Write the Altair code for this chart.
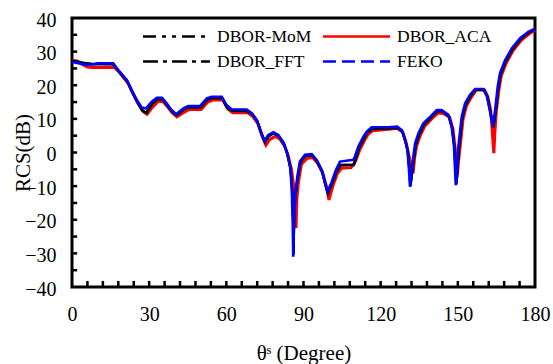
import altair as alt
import pandas as pd

SERIES = ["DBOR-MoM", "DBOR_ACA", "DBOR_FFT", "FEKO"]
COLORS = ["#000000", "#FF0000", "#000000", "#0000FF"]
DASHES = [[13, 6, 4, 6, 4, 6], [1, 0], [15, 5, 4, 5], [13, 6]]

X_LABELS = [0, 30, 60, 90, 120, 150, 180]
Y_LABELS = [-40, -30, -20, -10, 0, 10, 20, 30, 40]
X_MINOR = list(range(6, 180, 6))
Y_MINOR = list(range(-35, 40, 5))

# (theta in degrees, RCS in dB)
FEKO = [(0, 26.9), (3, 26.5), (5, 26.1), (8, 26.2), (10, 26.5), (16, 26.5), (18, 24.5),
        (21.3, 21.6), (23.2, 18.6), (25.2, 15.6), (27.1, 13.4), (28.8, 13.1), (31.0, 15.1),
        (33, 16.3), (35, 16.3), (36.8, 14.6), (38.5, 12.8), (40.5, 11.4), (43.3, 13.1),
        (45.2, 13.8), (49.8, 13.8), (52.4, 16.1), (54.3, 16.6), (58.2, 16.6), (60.1, 14.1),
        (62.1, 12.8), (67.9, 12.8), (69.9, 11.7), (71.8, 9.7), (73.5, 6.0), (74.8, 3.5),
        (76.3, 5.2), (78.3, 6.0), (80.2, 5.2), (82.2, 3.0), (83.5, 0.2), (84.8, -4.2),
        (85.4, -10.2), (85.8, -20), (86.0, -31.0), (86.3, -20), (86.7, -13.1), (87.6, -7.2),
        (88.6, -2.7), (90.6, -0.7), (93.2, -0.5), (95.1, -2.2), (97.1, -5.2), (98.4, -9.2),
        (99.3, -11.6), (101.0, -8.7), (102.6, -5.2), (104.2, -2.7), (109.4, -2.2), (110.0, -1.2),
        (111.3, 1.7), (113.3, 4.7), (114.6, 6.2), (116.5, 7.5), (123.0, 7.5), (126.4, 7.7),
        (128.2, 6.7), (129.5, 3.7), (130.4, 0.7), (131.0, -5.0), (131.4, -10.2), (132.5, -2.2),
        (133.4, 2.7), (134.7, 5.7), (136.6, 8.7), (139.2, 10.6), (141.8, 12.6), (143.7, 12.6),
        (146.3, 11.2), (147.6, 7.7), (148.5, 2.0), (149.2, -9.7), (150.2, 1.7), (151.5, 10.6),
        (152.8, 14.6), (154.7, 17.1), (156.7, 18.9), (159.9, 18.9), (161.2, 17.1), (162.3, 13.1),
        (163.6, 7.7), (164.5, 12.6), (165.5, 19.6), (166.4, 23.6), (168.4, 27.5), (171.0, 31.0),
        (174.2, 34.0), (177.4, 35.9), (180, 36.8)]

DBOR_MOM = [(0, 27.3), (3, 26.9), (5, 26.6), (8, 26.3), (16, 26.3), (18.2, 24.2), (21.5, 21.2),
            (23.4, 18.1), (25.4, 15.1), (27.3, 12.6), (28.9, 11.7), (31.2, 14.5), (33.2, 15.8),
            (35.2, 15.8), (37, 14.1), (38.7, 12.4), (40.6, 11.0), (43.5, 12.8), (45.4, 13.5),
            (50, 13.5), (52.6, 15.7), (54.5, 16.2), (58.4, 16.2), (60.3, 13.4), (62.3, 12.4),
            (68.1, 12.4), (70.1, 11.4), (72.0, 9.4), (73.7, 5.6), (75.0, 3.1), (76.5, 4.8),
            (78.5, 5.8), (80.4, 4.9), (82.4, 2.6), (83.7, -0.3), (85.0, -4.8), (85.6, -11),
            (86.0, -20), (86.1, -30.5), (86.4, -18), (86.9, -12.5), (87.8, -7.3), (88.8, -2.9),
            (90.8, -0.9), (93.4, -0.8), (95.3, -2.6), (97.3, -5.7), (98.6, -9.8), (99.5, -12.2),
            (101.2, -9.0), (102.8, -5.7), (104.4, -3.7), (109.6, -3.7), (110.3, -1.8), (111.5, 1.2),
            (113.5, 4.3), (114.8, 5.9), (116.7, 7.1), (123.2, 7.2), (126.6, 7.4), (128.4, 6.3),
            (129.7, 3.2), (130.6, 0.2), (131.2, -5.0), (131.6, -10.0), (132.7, -2.8), (133.6, 2.2),
            (134.9, 5.3), (136.8, 8.3), (139.4, 10.3), (142.0, 12.3), (143.9, 12.3), (146.5, 10.9),
            (147.8, 7.3), (148.7, 1.5), (149.4, -9.5), (150.4, 1.2), (151.7, 10.2), (153.0, 14.2),
            (154.9, 16.8), (156.9, 18.7), (160.1, 18.7), (161.4, 16.8), (162.5, 12.7), (163.8, 7.5),
            (164.7, 12.2), (165.7, 19.2), (166.6, 23.2), (168.6, 27.2), (171.2, 30.7), (174.4, 33.8),
            (177.6, 35.7), (180, 36.7)]

DBOR_FFT = [(0, 27.2), (3, 26.8), (5, 26.5), (8, 26.3), (16, 26.2), (18.2, 24.1), (21.5, 21.1),
            (23.4, 18.0), (25.4, 15.0), (27.3, 12.5), (28.9, 11.8), (31.2, 14.6), (33.2, 15.9),
            (35.2, 15.8), (37, 14.0), (38.7, 12.3), (40.6, 11.1), (43.5, 12.9), (45.4, 13.5),
            (50, 13.4), (52.6, 15.7), (54.5, 16.3), (58.4, 16.2), (60.3, 13.3), (62.3, 12.4),
            (68.1, 12.3), (70.1, 11.3), (72.0, 9.3), (73.7, 5.5), (75.0, 3.2), (76.5, 4.9),
            (78.5, 5.8), (80.4, 4.8), (82.4, 2.5), (83.7, -0.4), (85.0, -5.0), (85.6, -11.5),
            (86.0, -21), (86.1, -30.0), (86.4, -18), (86.9, -12.3), (87.8, -7.2), (88.8, -2.8),
            (90.8, -0.9), (93.4, -0.8), (95.3, -2.7), (97.3, -5.8), (98.6, -9.9), (99.5, -12.0),
            (101.2, -9.1), (102.8, -5.8), (104.4, -3.8), (109.6, -3.6), (110.3, -1.8), (111.5, 1.1),
            (113.5, 4.2), (114.8, 5.9), (116.7, 7.0), (123.2, 7.2), (126.6, 7.3), (128.4, 6.2),
            (129.7, 3.1), (130.6, 0.1), (131.2, -5.2), (131.6, -9.8), (132.7, -2.9), (133.6, 2.1),
            (134.9, 5.2), (136.8, 8.2), (139.4, 10.3), (142.0, 12.2), (143.9, 12.3), (146.5, 10.8),
            (147.8, 7.2), (148.7, 1.3), (149.4, -9.3), (150.4, 1.1), (151.7, 10.1), (153.0, 14.1),
            (154.9, 16.7), (156.9, 18.7), (160.1, 18.6), (161.4, 16.7), (162.5, 12.6), (163.8, 7.6),
            (164.7, 12.1), (165.7, 19.1), (166.6, 23.1), (168.6, 27.1), (171.2, 30.6), (174.4, 33.7),
            (177.6, 35.7), (180, 36.7)]

DBOR_ACA = [(0, 27.4), (2, 27.2), (4, 26.2), (6, 25.4), (8, 25.3), (16.5, 25.3), (18.5, 23.8),
            (21.8, 20.6), (23.7, 17.5), (25.7, 14.6), (27.6, 12.2), (29.2, 11.4), (31.3, 13.5),
            (33.5, 15.2), (35.3, 15.2), (37.2, 13.6), (38.9, 11.8), (40.8, 10.6), (43.6, 12.0),
            (45.6, 12.8), (50.2, 12.8), (52.8, 15.0), (54.7, 15.6), (58.6, 15.6), (60.5, 13.0),
            (62.5, 11.8), (68.3, 11.8), (70.3, 10.7), (72.2, 8.7), (74.0, 4.7), (75.4, 2.2),
            (76.8, 3.8), (79.0, 4.8), (80.8, 4.0), (82.6, 2.0), (84.0, -0.8), (85.3, -5.0),
            (86.2, -10.0), (86.8, -18.0), (87.1, -22.5), (87.4, -14.0), (88.0, -9.0), (89.2, -3.5),
            (91.5, -1.7), (93.5, -1.5), (95.5, -3.2), (97.5, -6.2), (98.9, -10.0), (99.9, -14.1),
            (101.5, -9.7), (103.2, -6.2), (104.8, -4.7), (108.5, -4.5), (110.3, -2.5), (111.8, 0.7),
            (113.8, 3.7), (115.2, 5.5), (117.0, 6.5), (123.0, 6.9), (126.5, 7.2), (128.7, 5.9),
            (130.0, 2.7), (131.0, -1.0), (132.6, -6.2), (133.2, -1.5), (134.0, 2.0), (135.3, 4.9),
            (137.2, 7.9), (139.8, 10.0), (142.3, 11.7), (144.2, 11.7), (146.8, 10.5), (148.1, 7.0),
            (149.0, 1.0), (149.7, -7.5), (150.5, -1.0), (150.8, 1.0), (152.0, 9.8), (153.3, 13.8),
            (155.2, 16.4), (157.2, 18.6), (160.4, 18.6), (161.7, 16.5), (162.8, 12.5), (163.5, 5.0),
            (164.0, -0.2), (164.4, 6.0), (164.9, 11.8), (166.0, 18.8), (166.9, 22.8), (168.9, 26.8),
            (171.5, 30.3), (174.7, 33.4), (177.9, 35.4), (180, 36.3)]


def frame(pairs, name):
    return pd.DataFrame({"theta": [p[0] for p in pairs],
                         "rcs": [p[1] for p in pairs],
                         "series": name})


FONT = "Liberation Serif"
x_scale = alt.Scale(domain=[0, 180], nice=False, zero=False)
y_scale = alt.Scale(domain=[-40, 40], nice=False, zero=False)

x_axis = alt.Axis(values=X_LABELS, title="θˢ (Degree)", labelPadding=17, labelFlush=False,
                  domain=False, ticks=False, grid=False,
                  labelFont=FONT, labelFontSize=20, labelColor="black",
                  titleFont=FONT, titleFontSize=21, titleColor="black", titleFontWeight="normal",
                  titleX=231.5, titleY=66, titleBaseline="middle", titleAlign="center")
y_axis = alt.Axis(values=Y_LABELS, title="RCS(dB)", labelPadding=16, labelFlush=False,
                  labelOffset=2,
                  domain=False, ticks=False, grid=False,
                  labelFont=FONT, labelFontSize=20, labelColor="black",
                  titleFont=FONT, titleFontSize=21, titleColor="black", titleFontWeight="normal",
                  titleX=-48.5, titleY=134.5, titleBaseline="middle", titleAlign="center")

W, H = 463, 269


def line(df, color, width):
    return alt.Chart(df).mark_line(color=color, strokeWidth=width).encode(
        x=alt.X("theta:Q", scale=x_scale, axis=x_axis),
        y=alt.Y("rcs:Q", scale=y_scale, axis=y_axis),
    )


aca = line(frame(DBOR_ACA, "DBOR_ACA"), "#FF0000", 3.0)
mom = line(frame(DBOR_MOM, "DBOR-MoM"), "#000000", 2.4)
fft = line(frame(DBOR_FFT, "DBOR_FFT"), "#000000", 2.4)
feko = line(frame(FEKO, "FEKO"), "#0000FF", 2.6)

y_ticks = alt.Chart(pd.DataFrame({"v": Y_MINOR})).mark_rule(
    color="black", strokeWidth=2.5
).encode(
    y=alt.Y("v:Q", scale=y_scale, axis=y_axis),
    x=alt.XDatum(0, scale=x_scale, axis=x_axis),
    x2=alt.datum(2.0),
)

x_ticks = alt.Chart(pd.DataFrame({"v": X_MINOR})).mark_rule(
    color="black", strokeWidth=2.5
).encode(
    x=alt.X("v:Q", scale=x_scale, axis=x_axis),
    y=alt.YDatum(-40, scale=y_scale, axis=y_axis),
    y2=alt.datum(-38.2),
)

legend = alt.Legend(
    title=None, orient="none", legendX=92, legendY=6, columns=2, direction="horizontal",
    symbolType="M-3,0H3", symbolSize=500, symbolStrokeWidth=2.5,
    labelFont=FONT, labelFontSize=17.5, labelColor="black", labelOffset=28,
    columnPadding=5, rowPadding=4, padding=0, labelLimit=200,
)

legend_df = pd.DataFrame({"theta": [0, 0, 0, 0], "rcs": [0, 0, 0, 0], "series": SERIES})
legend_layer = alt.Chart(legend_df).mark_line(strokeWidth=2.5).encode(
    x=alt.X("theta:Q", scale=x_scale, axis=x_axis),
    y=alt.Y("rcs:Q", scale=y_scale, axis=y_axis),
    color=alt.Color("series:N", scale=alt.Scale(domain=SERIES, range=COLORS),
                    legend=legend, sort=SERIES),
    strokeDash=alt.StrokeDash("series:N", scale=alt.Scale(domain=SERIES, range=DASHES),
                              legend=legend, sort=SERIES),
)

chart = alt.layer(aca, mom, fft, feko, y_ticks, x_ticks, legend_layer).properties(
    width=W, height=H,
    background="white",
    autosize=alt.AutoSizeParams(type="none"),
    padding={"left": 72, "top": 18, "right": 18, "bottom": 77},
).configure(
    font=FONT
).configure_view(
    stroke="black", strokeWidth=3
).configure_axis(
    labelFont=FONT, titleFont=FONT
)

chart.save("out.html", embed_options={"renderer": "svg", "actions": False})
